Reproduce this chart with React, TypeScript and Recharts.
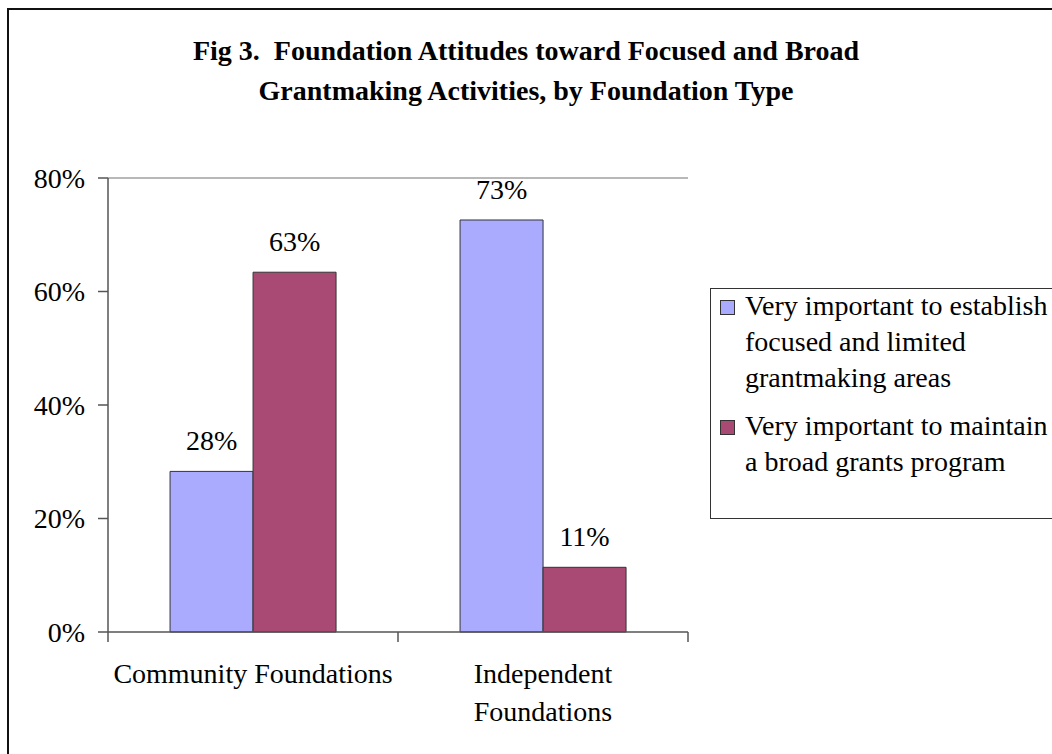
import React from 'react';
import { BarChart, Bar, XAxis, YAxis, ReferenceLine, LabelList } from 'recharts';

const categories = ['Community Foundations', 'Independent Foundations'];
const categoryLines = [['Community Foundations'], ['Independent', 'Foundations']];
const seriesNames = [
  'Very important to establish focused and limited grantmaking areas',
  'Very important to maintain a broad grants program',
];
const focusedValues = [28.3, 72.6];
const broadValues = [63.4, 11.4];
const yTicks = [0, 20, 40, 60, 80];
const seriesColors = ['#AAAAFF', '#A94A74'];
const titleLines = [
  'Fig 3.  Foundation Attitudes toward Focused and Broad',
  'Grantmaking Activities, by Foundation Type',
];

const data = categories.map((c, i) => ({ name: c, focused: focusedValues[i], broad: broadValues[i] }));
const seriesKeys = ['focused', 'broad'];

const FONT = '"Liberation Serif", "Times New Roman", serif';
const CHART_W = 1052;
const CHART_H = 754;
const MARGIN = { top: 178, right: 364, bottom: 22, left: 0 };
const Y_W = 108;
const PLOT_W = CHART_W - MARGIN.left - MARGIN.right - Y_W;

const CategoryTick = (props: any) => {
  const { x, y, index, visibleTicksCount } = props;
  const w = typeof props.width === 'number' ? props.width : PLOT_W;
  const n = visibleTicksCount || categories.length;
  const band = w / n;
  const lines = categoryLines[index] || [String(props.payload.value)];
  return (
    <g>
      <line x1={x - band / 2} x2={x - band / 2} y1={y} y2={y + 10} stroke="#555" strokeWidth={1.5} />
      {index === n - 1 && (
        <line x1={x + band / 2} x2={x + band / 2} y1={y} y2={y + 10} stroke="#555" strokeWidth={1.5} />
      )}
      {lines.map((l, i) => (
        <text key={i} x={x} y={y + 51 + i * 38} textAnchor="middle" fontFamily={FONT} fontSize={28} fill="#000">
          {l}
        </text>
      ))}
    </g>
  );
};

export default function App() {
  return (
    <div style={{ position: 'fixed', left: 0, top: 0, width: CHART_W, height: CHART_H, overflow: 'hidden', background: '#fff' }}>
      <style>{'html,body{overflow:hidden;margin:0}'}</style>
      <div
        style={{
          position: 'absolute',
          left: 7,
          top: 8,
          width: 1100,
          height: 800,
          borderLeft: '2px solid #111',
          borderTop: '2px solid #111',
        }}
      />
      <div
        style={{
          position: 'absolute',
          left: 0,
          top: 31,
          width: CHART_W,
          textAlign: 'center',
          fontFamily: FONT,
          fontWeight: 'bold',
          fontSize: 28,
          lineHeight: '40px',
          whiteSpace: 'pre',
          color: '#000',
        }}
      >
        {titleLines.map((t, i) => (
          <div key={i}>{t}</div>
        ))}
      </div>
      <div style={{ position: 'absolute', left: 0, top: 0 }}>
        <BarChart width={CHART_W} height={CHART_H} data={data} margin={MARGIN} barCategoryGap="21.4%" barGap={0}>
          <ReferenceLine y={80} stroke="#a0a0a0" strokeWidth={1.5} ifOverflow="visible" />
          <XAxis
            dataKey="name"
            height={100}
            tickSize={0}
            tickMargin={0}
            tickLine={false}
            axisLine={{ stroke: '#555', strokeWidth: 1.5 }}
            tick={<CategoryTick />}
            interval={0}
          />
          <YAxis
            width={Y_W}
            domain={[0, 80]}
            ticks={yTicks}
            tickSize={10}
            tickMargin={13}
            axisLine={{ stroke: '#555', strokeWidth: 1.5 }}
            tickLine={{ stroke: '#555', strokeWidth: 1.5 }}
            tick={{ fontFamily: FONT, fontSize: 28, fill: '#000' }}
            tickFormatter={(v: number) => `${v}%`}
            interval={0}
          />
          <YAxis
            yAxisId="right"
            orientation="right"
            width={0}
            domain={[0, 80]}
            tick={false}
            tickLine={false}
            axisLine={{ stroke: '#a0a0a0', strokeWidth: 1.5 }}
          />
          {seriesKeys.map((k, i) => (
            <Bar key={k} dataKey={k} name={seriesNames[i]} fill={seriesColors[i]} stroke="#333" strokeWidth={1} isAnimationActive={false}>
              <LabelList
                dataKey={k}
                position="top"
                offset={21}
                formatter={(v: any) => `${Math.round(Number(v))}%`}
                style={{ fontFamily: FONT, fontSize: 28, fill: '#000' }}
              />
            </Bar>
          ))}
        </BarChart>
      </div>
      <div
        style={{
          position: 'absolute',
          left: 710,
          top: 288,
          width: 400,
          height: 231,
          boxSizing: 'border-box',
          border: '1.5px solid #333',
          fontFamily: FONT,
          fontSize: 28,
          lineHeight: '36px',
          color: '#000',
        }}
      >
        {seriesNames.map((name, i) => (
          <div key={name} style={{ position: 'relative', paddingLeft: 34, marginTop: i === 0 ? -1 : 12, width: 310 }}>
            <span
              style={{
                position: 'absolute',
                left: 9,
                top: 12,
                width: 15,
                height: 15,
                background: seriesColors[i],
                border: '1px solid #333',
                boxSizing: 'border-box',
              }}
            />
            {name}
          </div>
        ))}
      </div>
    </div>
  );
}
